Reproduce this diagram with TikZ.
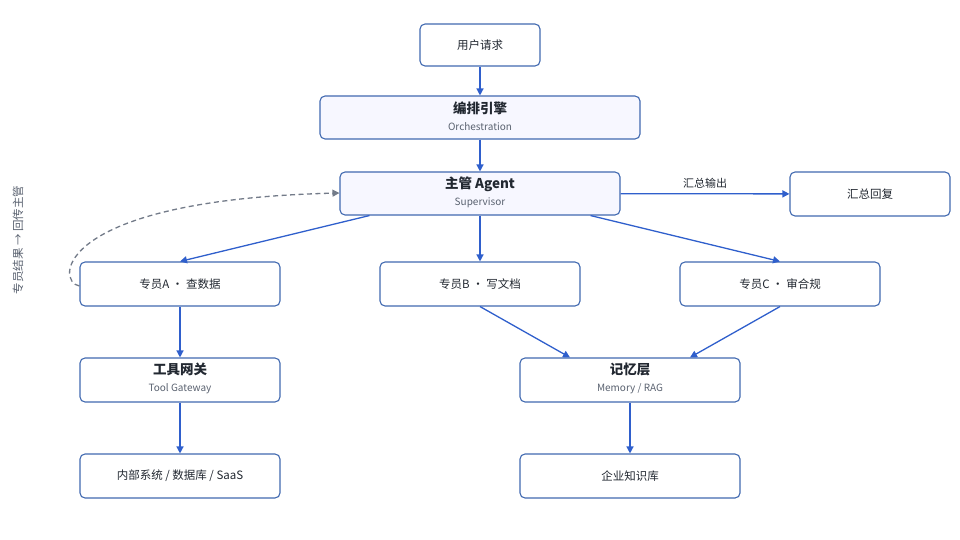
\documentclass[tikz,border=0pt]{standalone}
\usepackage{fontspec}
\setmainfont{Noto Sans CJK SC}
\usetikzlibrary{arrows.meta}
\definecolor{bd}{HTML}{4169B0}
\definecolor{ar}{HTML}{2F5FCC}
\definecolor{tx}{HTML}{222831}
\definecolor{sub}{HTML}{5A6270}
\begin{document}
\begin{tikzpicture}[x=1pt,y=-1pt,
  box/.style={draw=bd,line width=1.1pt,rounded corners=5pt,fill=white,text=tx,font=\fontsize{11.5}{13}\selectfont},
  main/.style={box,fill=blue!3},
  ed/.style={draw=ar,line width=1.3pt,-{Triangle[width=7pt,length=7pt]}},
  t/.style={font=\fontsize{13.5}{15}\selectfont\bfseries,text=tx},
  s/.style={font=\fontsize{10}{11}\selectfont,text=sub}]
\useasboundingbox (0,0) rectangle (960,540);
\newcommand\bx[6]{\node[#2,minimum width=#5-#3,minimum height=#6-#4] (#1) at ({(#3+#5)/2},{(#4+#6)/2}) {};}
\bx{u}{box}{420}{24}{540}{66}
\node[box,draw=none,fill=none] at (u) {用户请求};
\bx{o}{main}{320}{96}{640}{139}
\node[t] at (480,108) {编排引擎}; \node[s] at (480,127) {Orchestration};
\bx{sv}{main}{340}{172}{620}{215}
\node[t] at (480,184) {主管 Agent}; \node[s] at (480,203) {Supervisor};
\bx{r}{box}{790}{172}{950}{216}
\node[box,draw=none,fill=none] at (r) {汇总回复};
\bx{a}{box}{80}{262}{280}{306}
\node[box,draw=none,fill=none] at (a) {专员A · 查数据};
\bx{b}{box}{380}{262}{580}{306}
\node[box,draw=none,fill=none] at (b) {专员B · 写文档};
\bx{c}{box}{680}{262}{880}{306}
\node[box,draw=none,fill=none] at (c) {专员C · 审合规};
\bx{g}{box}{80}{358}{280}{402}
\node[t] at (180,369) {工具网关}; \node[s] at (180,389) {Tool Gateway};
\bx{m}{box}{520}{358}{740}{402}
\node[t] at (630,369) {记忆层}; \node[s] at (630,389) {Memory / RAG};
\bx{i}{box}{80}{454}{280}{498}
\node[box,draw=none,fill=none] at (i) {内部系统 / 数据库 / SaaS};
\bx{k}{box}{520}{454}{740}{498}
\node[box,draw=none,fill=none] at (k) {企业知识库};
\draw[ed] (u) -- (o);
\draw[ed] (o) -- (sv);
\draw[ed] (sv.south west)+(30,0) -- (a.north);
\draw[ed] (sv) -- (b);
\draw[ed] (sv.south east)+(-30,0) -- (c.north);
\draw[ed] (sv) -- node[above,yshift=1pt,font=\fontsize{11}{12}\selectfont,text=tx]{汇总输出} (r);
\draw[ed] (a) -- (g);
\draw[ed] (g) -- (i);
\draw[ed] (b.south) -- (m.north-|570,0);
\draw[ed] (c.south) -- (m.north-|690,0);
\draw[ed] (m) -- (k);
\coordinate (al) at (a.west);
\draw[gray!80!bd,line width=1.3pt,dash pattern=on 5pt off 3.5pt,-{Triangle[width=7pt,length=7pt]}] ([yshift=-2pt]al) .. controls (55,282) and (55,200) .. (sv.west|-0,193);
\node[rotate=90,font=\fontsize{11.5}{13}\selectfont,text=sub] at (18,240) {专员结果 → 回传主管};
\end{tikzpicture}
\end{document}
